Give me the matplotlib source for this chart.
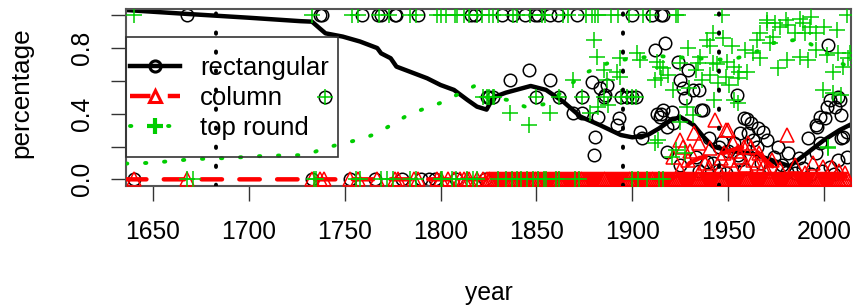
import numpy as np
import matplotlib
matplotlib.use("Agg")
import matplotlib.pyplot as plt
from matplotlib.lines import Line2D
from matplotlib.patches import Rectangle

plt.rcParams['font.family'] = ['Liberation Sans', 'DejaVu Sans']

#---data---#
# rectangular (black circles)
rect_year = [1668, 1737, 1738, 1759, 1767.5, 1769, 1776, 1777, 1788, 1816, 1818, 1832, 1838, 1844,
             1849, 1851, 1857, 1861, 1871, 1900, 1910, 1915, 1916,
             1740, 1824, 1825, 1827.5, 1850, 1862, 1874, 1885, 1894, 1897, 1900, 1902,
             1836, 1846, 1857, 1869, 1879, 1883, 1886.6, 1882, 1893, 1892, 1880.5, 1880, 1904, 1905,
             1912, 1917, 1913, 1915, 1918, 1886, 1874, 1918, 1924, 1929, 1925, 1926.6, 1927.5, 1935,
             1937, 1916, 1920.5, 1954.4, 1958, 1962, 1965.7, 1970, 1976, 1981, 1991.7, 1996, 1997.8,
             2000.4, 2001.3, 2003, 2005.7, 2008.3, 2002.2, 2009, 2011.7, 1956, 1921.4, 1914.4, 2007.4,
             1925, 1933, 1939, 1945, 1960.5, 1968, 1963, 1974, 1987, 1996, 2003, 2007, 2012, 1998,
             1953, 1956, 1945, 1949, 1989, 1980.5, 1931.8, 1936, 1959.7, 1996.5, 2009, 2010,
             1940, 1947, 1950, 1955, 1965, 1967, 1972, 1978, 1985, 1993, 1999, 2005, 1942, 1935, 1958,
             1640, 1733, 1753, 1766, 1780, 1790, 1794, 1797, 1808, 1823, 1990]
rect_val = [1, 1, 1, 1, 1, 1, 1, 1, 1, 1, 1, 1, 1, 1,
            1, 1, 1, 1, 1, 1, 1, 1, 1,
            0.5, 0.5, 0.5, 0.5, 0.5, 0.5, 0.5, 0.5, 0.5, 0.5, 0.5, 0.5,
            0.607, 0.667, 0.607, 0.402, 0.595, 0.555, 0.575, 0.382, 0.372, 0.331, 0.26, 0.148, 0.29, 0.25,
            0.79, 0.83, 0.40, 0.40, 0.168, 0.514, 0.402, 0.321, 0.717, 0.667, 0.607, 0.555, 0.494, 0.545,
            0.423, 0.423, 0.412, 0.514, 0.372, 0.341, 0.311, 0.24, 0.199, 0.159, 0.25, 0.331, 0.382,
            0.372, 0.443, 0.484, 0.443, 0.484, 0.82, 0.25, 0.29, 0.118, 0.341, 0.382, 0.504,
            0.087, 0.138, 0.107, 0.057, 0.28, 0.29, 0.24, 0.138, 0.128, 0.159, 0.077, 0.118, 0.138, 0.22,
            0.22, 0.28, 0.199, 0.037, 0.067, 0.046, 0.545, 0.42, 0.37, 0.32, 0.39, 0.26,
            0.25, 0.23, 0.17, 0.15, 0.2, 0.1, 0.07, 0.09, 0.04, 0.03, 0.05, 0.03, 0.1, 0.05, 0.06,
            0, 0, 0, 0, 0, 0, 0, 0, 0, 0, 0]

# column (red triangles), non-zero ones
col_year = [1943, 1950, 1932, 1980.5, 1952.7, 1960.5, 1962, 1935, 1940.5, 1926.6, 1966, 1973, 1985,
            1994, 1999.6, 2004, 1956, 1951, 1959, 1929, 1921, 1968, 1940, 1935, 1925, 1949, 1925,
            1946, 1955, 1958, 1963, 1970, 1977, 1990, 2008, 2011, 1945, 1930, 1938, 1948, 1953, 1965]
col_val = [0.362, 0.3, 0.28, 0.27, 0.22, 0.22, 0.2, 0.22, 0.189, 0.199, 0.159, 0.118, 0.087,
           0.098, 0.077, 0.077, 0.138, 0.118, 0.087, 0.118, 0.138, 0.077, 0.077, 0.037, 0.057, 0.3, 0.24,
           0.13, 0.17, 0.2, 0.12, 0.05, 0.06, 0.04, 0.05, 0.04, 0.05, 0.17, 0.1, 0.16, 0.06, 0.1]
# years where column share is zero
col_zero_year = [1640, 1668, 1733, 1737, 1739, 1753, 1757, 1767, 1776, 1778, 1786, 1788, 1798, 1800,
                 1804, 1807, 1810, 1812, 1814, 1815, 1819, 1822,
                 1824, 1825, 1826, 1827, 1828, 1829, 1830, 1831, 1832, 1833, 1834, 1835, 1836, 1837,
                 1838, 1839, 1840, 1841, 1842, 1843, 1844, 1845, 1846, 1847, 1848, 1849, 1850, 1851,
                 1852, 1853, 1854, 1855, 1856, 1857, 1858, 1859, 1860, 1861, 1862, 1863, 1864, 1865,
                 1866, 1867, 1868, 1869, 1870, 1871, 1872, 1873, 1874, 1875, 1876, 1877, 1878, 1879,
                 1880, 1881, 1882, 1883, 1884, 1885, 1886, 1887, 1888, 1889, 1890, 1891, 1892, 1893,
                 1894, 1895, 1896, 1897, 1898, 1899, 1900, 1901, 1902, 1903, 1904, 1905, 1906, 1907,
                 1908, 1909, 1910, 1911, 1912, 1913, 1914, 1915, 1916, 1917, 1918, 1919, 1920, 1921,
                 1922, 1923, 1924, 1925, 1926, 1927, 1928, 1929, 1930, 1931, 1932, 1933, 1934, 1935,
                 1936, 1937, 1938, 1939, 1940, 1941, 1942, 1943, 1944, 1945, 1946, 1947, 1948, 1949,
                 1950, 1951, 1952, 1953, 1954, 1955, 1956, 1957, 1958, 1959, 1960, 1961, 1962, 1963,
                 1964, 1965, 1966, 1967, 1968, 1969, 1970, 1971, 1972, 1973, 1974, 1975, 1976, 1977,
                 1978, 1979, 1980, 1981, 1982, 1983, 1984, 1985, 1986, 1987, 1988, 1989, 1990, 1991,
                 1992, 1993, 1994, 1995, 1996, 1997, 1998, 1999, 2000, 2001, 2002, 2003, 2004, 2005,
                 2006, 2007, 2008, 2009, 2010, 2011, 2012]

# top round (green pluses)
top_year = [1640, 1733, 1754, 1757, 1768, 1773, 1784, 1787, 1798, 1800, 1803, 1807.5, 1808.5, 1812,
            1815, 1819, 1821.5, 1825, 1827.5, 1830, 1838, 1840, 1846.6, 1852.7, 1854.5, 1864, 1866.6,
            1876, 1879, 1880.5, 1882, 1889, 1892.7, 1898, 1905.7, 1909, 1923, 1924, 1946.6, 2012,
            1740, 1824, 1825, 1827.5, 1850, 1862, 1874, 1885, 1894, 1897, 1900, 1902, 1822, 1828,
            1880, 1881.5, 1893.6, 1904, 1912.7, 1885, 1892, 1869, 1886.6, 1893.6, 1912, 1915, 1836,
            1846, 1857, 1878, 1887.5, 1912, 2002, 1882, 1913.5, 1902.3, 1914.4,
            1942.3, 1938.8, 1947.5, 1929, 1940.5, 1951.8, 1958.8, 1934.4, 1942.3, 1949.2, 1963,
            1966.6, 1971.8, 1974.4, 1970, 1977, 1981, 1987.4, 1989, 1992.6, 1996, 1984.8, 1966.6,
            1965, 1976, 1980.5, 1987.4, 1991.7, 1996, 2001.3, 2007.4, 2010, 2012.6, 2004.8, 1999.6,
            2004.8, 2009, 2002.2, 1918.4, 1916, 1921.4, 1929.5, 1936.4, 1942.8, 1950.6, 1955, 1955.8,
            1960, 1949, 1928.4, 1931.8, 1925, 1923, 1927.4, 1920.6, 1944.3, 1935.3, 1925,
            1953.2, 1940.5, 1944.6, 1954.9, 1953.2, 1933.4,
            1970, 1980, 1993.3, 2000, 2006.7, 1973.3, 1990, 2013.3, 2018,
            1668, 1671, 1734, 1735, 1756, 1758, 1769, 1772, 1775, 1784, 1787, 1800, 1801, 1806,
            1808, 1814, 1817, 1819, 1830, 1834, 1837, 1840, 1842, 1845, 1848, 1851, 1854, 1855,
            1860, 1862, 1870, 1872, 1900, 1903, 1907.5, 1914, 1916]
top_val = [1, 1, 1, 1, 1, 1, 1, 1, 1, 1, 1, 1, 1, 1,
           1, 1, 1, 1, 1, 1, 1, 1, 1, 1, 1, 1, 1,
           1, 1, 1, 1, 1, 1, 1, 1, 1, 1, 1, 1, 1,
           0.5, 0.5, 0.5, 0.5, 0.5, 0.5, 0.5, 0.5, 0.5, 0.5, 0.5, 0.5, 0.5, 0.5,
           0.85, 0.748, 0.738, 0.728, 0.717, 0.667, 0.656, 0.607, 0.607, 0.626, 0.607, 0.616, 0.402,
           0.331, 0.402, 0.402, 0.453, 0.22, 0.189, 0.443, 0.24, 0.768, 0.687,
           0.89, 0.85, 0.86, 0.8, 0.81, 0.81, 0.79, 0.707, 0.707, 0.717, 0.768,
           0.738, 0.83, 0.95, 0.97, 0.93, 0.94, 0.98, 0.95, 0.93, 0.89, 0.89, 0.89,
           0.85, 0.677, 0.728, 0.748, 0.728, 0.79, 0.758, 0.768, 0.687, 0.738, 0.656, 0.545,
           0.524, 0.514, 0.199, 0.636, 0.677, 0.545, 0.555, 0.607, 0.484, 0.575, 0.463, 0.656,
           0.656, 0.626, 0.443, 0.392, 0.351, 0.179, 0.159, 0.138, 0.7, 0.748, 0.707,
           0.484, 0.636, 0.587, 0.617, 0.687, 0.667,
           0.95, 0.97, 0.99, 0.93, 0.91, 0.87, 0.89, 0.77, 0.71,
           0, 0, 0, 0, 0, 0, 0, 0, 0, 0, 0, 0, 0, 0,
           0, 0, 0, 0, 0, 0, 0, 0, 0, 0, 0, 0, 0, 0,
           0, 0, 0, 0, 0, 0, 0, 0, 0]

# smoothed trend lines
rect_line_year = [1636, 1668, 1700, 1727, 1733, 1737, 1740, 1749, 1758, 1767, 1769, 1774, 1777, 1784,
                  1793, 1800, 1807, 1814, 1819, 1824, 1827.5, 1834, 1847, 1855, 1864, 1873, 1883,
                  1894, 1900, 1908, 1914, 1920, 1925, 1932, 1937, 1942, 1950, 1963, 1972, 1982,
                  1991, 2000, 2008, 2014]
rect_line_val = [1.032, 1.008, 0.985, 0.964, 0.961, 0.92, 0.89, 0.87, 0.84, 0.80, 0.768, 0.738, 0.687,
                 0.656, 0.616, 0.575, 0.545, 0.484, 0.443, 0.425, 0.50, 0.528, 0.569, 0.545, 0.473,
                 0.382, 0.331, 0.27, 0.256, 0.27, 0.311, 0.36, 0.38, 0.331, 0.26, 0.2, 0.175, 0.155,
                 0.12, 0.08, 0.159, 0.24, 0.3, 0.335]
col_line_year = [1636, 1920, 1925, 1930, 1935, 1940, 1945, 1950, 1955, 1960, 1965, 1970, 1975, 1980,
                 1990, 2000, 2014]
col_line_val = [0, 0, 0.04, 0.1, 0.13, 0.14, 0.15, 0.17, 0.19, 0.2, 0.17, 0.11, 0.06, 0.03,
                0.03, 0.02, 0.02]
top_line_year = [1636, 1650, 1660, 1670, 1680, 1690, 1700, 1710, 1720, 1730, 1735, 1739, 1748, 1758,
                 1767, 1775, 1783, 1792, 1801, 1810, 1818, 1824, 1835, 1844, 1853.6, 1862, 1870, 1877,
                 1887, 1900, 1915, 1930, 1945, 1955, 1965, 1973, 1985, 1992, 2000, 2007, 2014]
top_line_val = [0.096, 0.101, 0.112, 0.122, 0.127, 0.13, 0.138, 0.144, 0.146, 0.148, 0.17, 0.189, 0.215,
                0.244, 0.28, 0.337, 0.392, 0.433, 0.47, 0.524, 0.571, 0.5, 0.484, 0.443, 0.457, 0.52,
                0.6, 0.656, 0.707, 0.74, 0.75, 0.74, 0.73, 0.74, 0.78, 0.83, 0.85, 0.83, 0.78, 0.717,
                0.68]

# dotted vertical markers
vline_years = [1683, 1895, 1945]

xticks = [1650, 1700, 1750, 1800, 1850, 1900, 1950, 2000]
yticks = [0.0, 0.2, 0.4, 0.6, 0.8, 1.0]
ytick_labels = ['0.0', '', '0.4', '', '0.8', '']

#---styles---#
BLACK = 'black'
RED = '#FF0000'
GREEN = '#00CD00'
FS = 17.7
DOT_LW = 2.8
dot_ls = (0, (0.35, 13.7 / DOT_LW - 0.35))

fig = plt.figure(figsize=(8.56, 3.06), dpi=100)
ax = fig.add_axes([126 / 856, 1 - 185.9 / 306, 725 / 856, 177.2 / 306])

ax.plot(rect_year, rect_val, 'o', ms=9, mfc='none', mec=BLACK, mew=1.1, zorder=2)
ax.plot(rect_line_year, rect_line_val, '-', color=BLACK, lw=3.2, solid_capstyle='round', zorder=2.5)

col_y = col_year + col_zero_year
col_v = col_val + [0] * len(col_zero_year)
ax.plot(col_y, col_v, '^', ms=10.5, mfc='none', mec=RED, mew=1.1, zorder=3)
ax.plot(col_line_year, col_line_val, color=RED, lw=3.2, dashes=(4.6, 3.9), dash_capstyle='round', zorder=3.5)

ax.plot(top_year, top_val, '+', ms=12, mec=GREEN, mew=1.1, zorder=4)
ax.plot(top_line_year, top_line_val, color=GREEN, lw=DOT_LW, linestyle=dot_ls, dash_capstyle='round', zorder=4.5)

for v in vline_years:
    ax.axvline(v, color=BLACK, lw=DOT_LW, linestyle=dot_ls, dash_capstyle='round', zorder=5)

ax.set_xlim(1636, 2014)
ax.set_ylim(-0.04, 1.04)
ax.set_xticks(xticks)
ax.set_xticklabels([str(t) for t in xticks], fontsize=FS)
ax.set_yticks(yticks)
ax.set_yticklabels(ytick_labels, fontsize=FS, rotation=90, va='center', ha='right')
ax.tick_params(axis='x', length=10.8, width=1.0, color='#333333', pad=13.5)
ax.tick_params(axis='y', length=10.8, width=1.0, color='#333333', pad=12.2)
for s in ax.spines.values():
    s.set_color('#555555')
    s.set_linewidth(1.5)

# legend frame (transparent, like R's default legend box)
ax.add_patch(Rectangle((0, (185.9 - 157) / 177.2), (338 - 126) / 725, (157 - 37) / 177.2,
                       transform=ax.transAxes, fill=False, ec='#333333', lw=1.2, zorder=6, clip_on=False))
handles = [Line2D([], [], color=BLACK, lw=3.2, marker='o', ms=8, mfc='none', mew=2.2),
           Line2D([], [], color=RED, lw=3.2, dashes=(4.6, 3.9), marker='^', ms=9, mfc='none', mew=2.2),
           Line2D([], [], color=GREEN, lw=DOT_LW, linestyle=dot_ls, dash_capstyle='round', marker='+',
                  ms=12, mew=3.0)]
leg = ax.legend(handles, ['rectangular', 'column', 'top round'], loc='upper left',
                bbox_to_anchor=((130 - 126) / 725, (185.9 - 55.5) / 177.2), borderaxespad=0, borderpad=0,
                frameon=False, fontsize=18.5, handlelength=1.95, handletextpad=0.78, labelspacing=0.24,
                numpoints=1)
leg.set_zorder(7)

fig.text(488.5 / 856, 1 - 300 / 306, 'year', ha='center', va='baseline', fontsize=FS)
fig.text(28 / 856, 1 - 92.5 / 306, 'percentage', ha='center', va='baseline', rotation=90,
         rotation_mode='anchor', fontsize=18.8)

fig.savefig('out.png', dpi=100)
